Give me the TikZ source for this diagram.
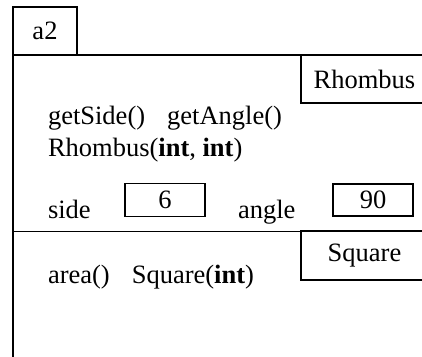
\documentclass[tikz,border=0pt]{standalone}
\usepackage{fontspec}
\setmainfont{Liberation Serif}
\begin{document}
\begin{tikzpicture}[x=1pt,y=1pt,
  every node/.style={inner sep=0pt,outer sep=0pt,font=\fontsize{26.5}{31}\selectfont},
  box/.style={draw,line width=1.3pt},
  txt/.style={anchor=base west},
  ln/.style={line width=1.3pt}]
\useasboundingbox (0,0) rectangle (422,356);
\clip (0,0) rectangle (422,356);
% tab
\node[box,minimum width=64pt,minimum height=48pt] (tab) at (45,325) {a2};
% outer frame
\coordinate (ftl) at (13,301);
\coordinate (fbr) at (440,-20);
\draw[ln] (ftl) rectangle (fbr);
% divider
\coordinate (dl) at (13,124.5);
\coordinate (dr) at (440,124.5);
\draw[ln] (dl) -- (dr);
% class labels
\node[box,minimum width=127pt,minimum height=48pt] (rh) at (364.5,277) {Rhombus};
\node[box,minimum width=127pt,minimum height=49pt] (sq) at (364.5,100.5) {Square};
% texts
\node[txt] (ops1) at (48,231) {getSide()\hspace{22pt}getAngle()};
\node[txt] (ops2) at (48,199) {Rhombus(\textbf{int}, \textbf{int})};
\node[txt] (side) at (48,138) {side};
\node[box,minimum width=80pt,minimum height=33pt] (v6) at (165,156) {6};
\node[txt] (angle) at (238,138) {angle};
\node[box,minimum width=80pt,minimum height=32pt] (v90) at (373,156) {90};
\node[txt] (ops3) at (48,73) {area()\hspace{22pt}Square(\textbf{int})};
\end{tikzpicture}
\end{document}
